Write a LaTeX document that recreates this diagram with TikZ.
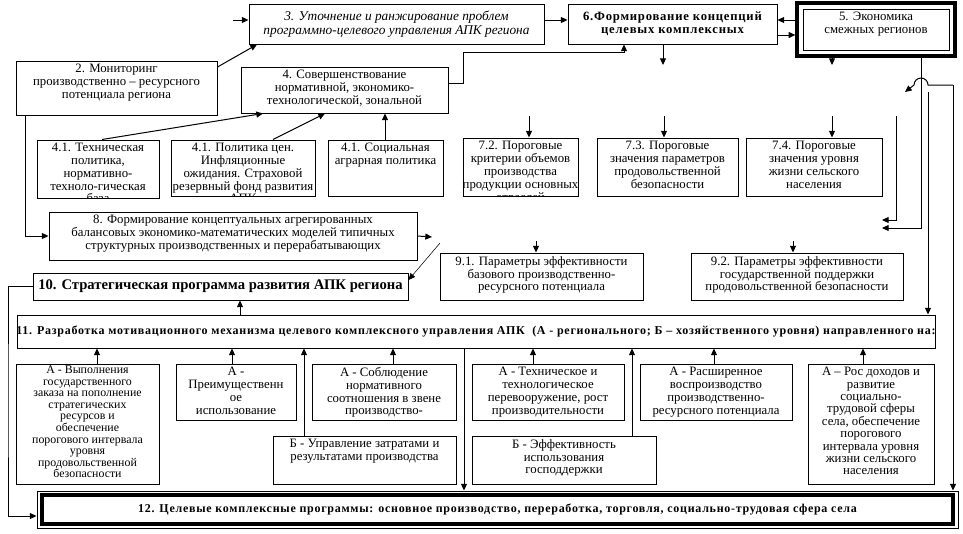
\documentclass[tikz,border=0pt]{standalone}
\usepackage{fontspec}
\setmainfont{Liberation Serif}
\newfontfamily\widebf{Liberation Serif}[LetterSpace=6]
\usetikzlibrary{arrows.meta,fit}

\tikzset{every picture/.style={line width=0.75pt}}
\tikzset{
  box/.style={draw, inner sep=0pt},
  txt/.style={inner xsep=1pt, inner ysep=2.5pt, align=center, font=\fontsize{9.6}{9.6}\selectfont},
  tighttxt/.style={txt, inner ysep=1.5pt, font=\fontsize{8.9}{8.65}\selectfont},
  arr/.style={-{Triangle[length=5pt,width=4.5pt]}},
}

\begin{document}
\begin{tikzpicture}[x=0.75pt,y=0.75pt,yscale=-1,xscale=1]
\useasboundingbox (0,0) rectangle (963,533);

%Shape: Rectangle 3
\node [box, fit={(249,4) (544,44)}] (b3) {};
% Text Node
\node [txt, font=\fontsize{10}{10}\selectfont\itshape] (b3t) at (b3.center) {3. Уточнение и ранжирование проблем\\программно-целевого управления АПК региона};
%Shape: Rectangle 6
\node [box, fit={(568,4) (777,44)}] (b6) {};
% Text Node
\node [txt, font=\fontsize{9.5}{10}\widebf\bfseries] (b6t) at (b6.center) {6.Формирование концепций\\целевых комплексных};
%Shape: Double Rectangle 5
\node [box, line width=2.5pt, fit={(797,3) (955,56)}] (b5) {};
\node [box, fit={(803,9) (949,50)}] (b5i) {};
% Text Node
\node [txt, anchor=north] (b5t) at (b5i.north) {5. Экономика\\смежных регионов};

%Shape: Rectangle 2
\node [box, fit={(16,61) (217,115)}] (b2) {};
% Text Node
\node [txt, anchor=north] (b2t) at (b2.north) {2. Мониторинг\\производственно – ресурсного\\потенциала региона};
%Shape: Rectangle 4
\node [box, fit={(241,67) (448,113)}] (b4) {};
% Text Node
\node [txt, anchor=north] (b4t) at (b4.north) {4. Совершенствование\\нормативной, экономико-\\технологической, зональной};

%Shape: Rectangle 4.1
\node [box, fit={(37,140) (159,198)}] (b41) {};
\begin{scope}
\clip (b41.south west) rectangle (b41.north east);
\node [txt, anchor=north] (b41t) at (b41.north) {4.1. Техническая\\политика,\\нормативно-\\техноло-гическая\\база};
\end{scope}
\node [box, fit={(171,140) (315,196)}] (b42) {};
\begin{scope}
\clip (b42.south west) rectangle (b42.north east);
\node [txt, anchor=north] (b42t) at (b42.north) {4.1. Политика цен.\\Инфляционные\\ожидания. Страховой\\резервный фонд развития\\АПК};
\end{scope}
\node [box, fit={(328,140) (443,196)}] (b43) {};
\node [txt, anchor=north] (b43t) at (b43.north) {4.1. Социальная\\аграрная политика};

%Shape: Rectangle 7.x
\node [box, fit={(463,138) (578,196)}] (b72) {};
\begin{scope}
\clip (b72.south west) rectangle (b72.north east);
\node [txt, anchor=north] (b72t) at (b72.north) {7.2. Пороговые\\критерии объемов\\производства\\продукции основных\\отраслей};
\end{scope}
\node [box, fit={(597,138) (738,196)}] (b73) {};
\node [txt, anchor=north] (b73t) at (b73.north) {7.3. Пороговые\\значения параметров\\продовольственной\\безопасности};
\node [box, fit={(746,138) (882,196)}] (b74) {};
\node [txt, anchor=north] (b74t) at (b74.north) {7.4. Пороговые\\значения уровня\\жизни сельского\\населения};

%Shape: Rectangle 8
\node [box, fit={(49,212) (417,260)}] (b8) {};
\node [txt, anchor=north] (b8t) at (b8.north) {8. Формирование концептуальных агрегированных\\балансовых экономико-математических моделей типичных\\структурных производственных и перерабатывающих};

%Shape: Rectangle 9.x
\node [box, fit={(440,253) (643,300)}] (b91) {};
\node [txt, anchor=north] (b91t) at (b91.north) {9.1. Параметры эффективности\\базового производственно-\\ресурсного потенциала};
\node [box, fit={(691,253) (903,300)}] (b92) {};
\node [txt, anchor=north] (b92t) at (b92.north) {9.2. Параметры эффективности\\государственной поддержки\\продовольственной безопасности};

%Shape: Rectangle 10
\node [box, fit={(33,273) (408,300)}] (b10) {};
\node [txt, font=\fontsize{11}{11}\selectfont\bfseries] (b10t) at (b10.center) {10. Стратегическая программа развития АПК региона};

%Shape: Rectangle 11
\node [box, fit={(17,315) (935,348)}] (b11) {};
\node [txt, font=\fontsize{9}{9}\widebf\bfseries] (b11t) at (b11.center) {11. Разработка мотивационного механизма целевого комплексного управления АПК~ (А - регионального; Б – хозяйственного уровня) направленного на:};

%Shape: Rectangle bottom row
\node [box, fit={(16,364) (159,484)}] (a1) {};
\node [tighttxt, anchor=north] (a1t) at (a1.north) {А - Выполнения\\государственного\\заказа на пополнение\\стратегических\\ресурсов и\\обеспечение\\порогового интервала\\уровня\\продовольственной\\безопасности};
\node [box, fit={(176,364) (296,420)}] (a2) {};
\node [txt, anchor=north] (a2t) at (a2.north) {А -\\Преимущественн\\ое\\использование};
\node [box, fit={(312,364) (456,420)}] (a3) {};
\node [txt, anchor=north] (a3t) at (a3.north) {А - Соблюдение\\нормативного\\соотношения в звене\\производство-};
\node [box, fit={(273,436) (456,484)}] (bb1) {};
\node [txt, anchor=north] (bb1t) at (bb1.north) {Б - Управление затратами и\\результатами производства};
\node [box, fit={(472,364) (624,420)}] (a4) {};
\node [txt, anchor=north] (a4t) at (a4.north) {А - Техническое и\\технологическое\\перевооружение, рост\\производительности};
\node [box, fit={(472,436) (656,484)}] (bb2) {};
\node [txt, anchor=north] (bb2t) at (bb2.north) {Б - Эффективность\\использования\\господдержки};
\node [box, fit={(640,364) (792,420)}] (a5) {};
\node [txt, anchor=north] (a5t) at (a5.north) {А - Расширенное\\воспроизводство\\производственно-\\ресурсного потенциала};
\node [box, fit={(808,364) (934,484)}] (a6) {};
\node [txt, font=\fontsize{9.6}{9.3}\selectfont, anchor=north] (a6t) at (a6.north) {А – Рос доходов и\\развитие\\социально-\\трудовой сферы\\села, обеспечение\\порогового\\интервала уровня\\жизни сельского\\населения};

%Shape: Double Rectangle 12
\node [box, fit={(37,491) (958,528)}] (b12) {};
\node [box, line width=2.5pt, fit={(42,495) (953,524)}] (b12i) {};
\node [txt, font=\fontsize{9}{9}\widebf\bfseries] (b12t) at (b12.center) {12. Целевые комплексные программы: основное производство, переработка, торговля, социально-трудовая сфера села};

% free ends
\coordinate (in3) at (233,20);
\coordinate (out6) at (663,65);
\coordinate (out5) at (832,65);
\coordinate (s72) at (529,116);
\coordinate (s73) at (664,116);
\coordinate (s74) at (832,116);
\coordinate (out8) at (432,237);
\coordinate (d10) at (440,243);
\coordinate (s91) at (536,241);
\coordinate (s92) at (793,241);
\coordinate (e5) at (882,228);
\coordinate (r1) at (896,116);
\coordinate (e1) at (882,220);
\coordinate (hopR) at (953,85);
\coordinate (hop) at (928,85);
\coordinate (hopend) at (905,92);
\coordinate (r2) at (928,92);

%Straight Lines top
\draw [arr] (in3) -- (b3.west |- in3);
\draw [arr] (b3.east |- 0,20) -- (b6.west |- 0,20);
\draw [arr] (b5.west |- 0,20) -- (b6.east |- 0,20);
\draw [arr] (b6.east |- 0,35) -- (b5.west |- 0,35);
\draw [arr] (b2.east |- 0,67) -- (b3.south -| 257,0);
\draw [arr] (b4.east |- 0,83) -- (463,83) |- (624,52) -- (b6.south -| 624,0);
\draw [arr] (b6.south -| out6) -- (out6);
\draw [arr] (b5.south -| out5) -- (out5);
\draw [arr] (s72) -- (b72.north -| s72);
\draw [arr] (s73) -- (b73.north -| s73);
\draw [arr] (s74) -- (b74.north -| s74);
\draw [arr] (b41.north -| 102,0) -- (b4.south -| 263,0);
\draw [arr] (b42.north -| 273,0) -- (b4.south -| 325,0);
\draw [arr] (b43.north -| 385,0) -- (b4.south -| 385,0);

%Straight Lines middle
\draw [arr] (b2.south -| 25,0) |- (b8.west);
\draw [arr] (b8.east) -- (out8);
\draw [arr, line width=0.4pt] (d10) -- (b10.east |- 0,280);
\draw [arr] (s91) -- (b91.north -| s91);
\draw [arr] (s92) -- (b92.north -| s92);
\draw [arr] (b11.north -| 240,0) -- (b10.south -| 240,0);
\draw [arr] (b10.west) -| (8,400) |- (b12.west |- 0,516);
\draw [arr] (b11.south -| 464,0) -- (b12.north -| 464,0);

%Straight Lines bottom
\draw [arr] (a1.north -| 97,0) -- (b11.south -| 97,0);
\draw [arr] (a2.north -| 232,0) -- (b11.south -| 232,0);
\draw [arr] (bb1.north -| 304,0) -- (b11.south -| 304,0);
\draw [arr] (a3.north -| 393,0) -- (b11.south -| 393,0);
\draw [arr] (a4.north -| 533,0) -- (b11.south -| 533,0);
\draw [arr] (bb2.north -| 632,0) -- (b11.south -| 632,0);
\draw [arr] (a5.north -| 714,0) -- (b11.south -| 714,0);
\draw [arr] (a6.north -| 863,0) -- (b11.south -| 863,0);

%Straight Lines right
\draw [arr] (b5.south -| 921,0) |- (e5);
\draw [arr] (r1) |- (e1);
\draw [arr] (hopR) -- (hop) arc (0:-180:7) -- (hopend);
\draw [arr] (r2) -- (b11.north -| r2);
\draw [arr] (hopR) -- (b12.north -| hopR);

\end{tikzpicture}
\end{document}
